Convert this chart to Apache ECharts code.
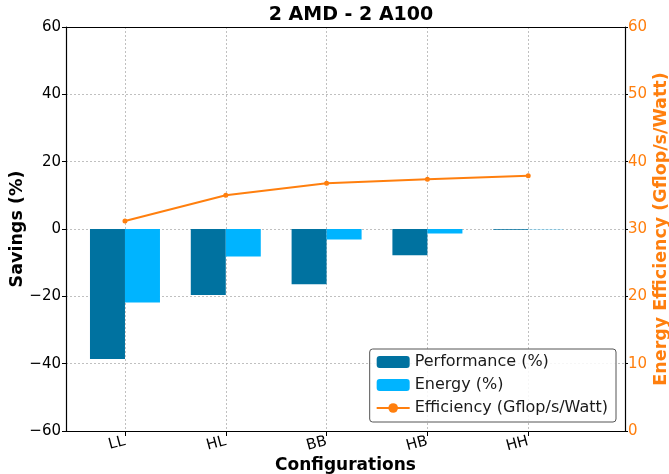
<!DOCTYPE html>
<html>
<head>
<meta charset="utf-8">
<script src="https://cdn.jsdelivr.net/npm/echarts@6/dist/echarts.min.js"></script>
<style>
  html, body { margin: 0; padding: 0; background: #fff; }
  #chart { width: 669px; height: 474px; }
</style>
</head>
<body>
<div id="chart"></div>
<script>
const categories = ["LL", "HL", "BB", "HB", "HH"];
const performance = [-38.6, -19.6, -16.4, -7.8, -0.2];
const energy = [-21.8, -8.2, -3.1, -1.3, -0.1];
const efficiency = [31.2, 35.0, 36.8, 37.4, 37.9];
const savingsTicks = [-60, 60, 20];
const efficiencyTicks = [0, 60, 10];

const font = "DejaVu Sans";
const orange = "#ff7f0e";
const minus = v => String(v).replace("-", "\u2212");

const chart = echarts.init(document.getElementById("chart"));

const gridLine = {show: true, lineStyle: {color: "#b0b0b0", type: [2, 2], width: 0.8}};
const frame = {show: true, onZero: false, lineStyle: {color: "#000", width: 1.2}};

const option = {
  animation: false,
  textStyle: {fontFamily: font},
  title: {
    text: "2 AMD - 2 A100",
    left: 346, top: 1, textAlign: "center",
    textStyle: {fontFamily: font, fontSize: 19, fontWeight: "bold", color: "#000"}
  },
  legend: {
    orient: "vertical",
    right: 53, bottom: 52,
    itemWidth: 33, itemHeight: 12, itemGap: 7,
    padding: [5, 8, 6, 6],
    borderColor: "#555", borderWidth: 1, borderRadius: 3,
    backgroundColor: "rgba(255,255,255,0.85)",
    textStyle: {fontFamily: font, fontSize: 16, color: "#1a1a1a"},
    data: [
      "Performance (%)",
      "Energy (%)",
      {name: "Efficiency (Gflop/s/Watt)", itemStyle: {borderWidth: 0}}
    ]
  },
  grid: {left: 66, right: 44, top: 27, bottom: 43, outerBoundsMode: "none", containLabel: false},
  xAxis: [
    {
      type: "value",
      min: -0.585, max: 4.96,
      splitNumber: 5,
      name: "Configurations",
      nameLocation: "middle", nameGap: 26, nameMoveOverlap: false,
      nameTextStyle: {fontFamily: font, fontSize: 17, fontWeight: "bold", color: "#000"},
      axisLine: frame,
      axisTick: {show: true, length: 5, lineStyle: {color: "#000"}},
      axisLabel: {
        rotate: 15, fontSize: 15, color: "#000", margin: 10,
        showMinLabel: false, showMaxLabel: false,
        formatter: v => (Number.isInteger(v) && categories[v]) ? categories[v] : ""
      },
      splitLine: gridLine
    },
    {
      type: "value", position: "top",
      min: -0.585, max: 4.96,
      axisLine: frame,
      axisTick: {show: false}, axisLabel: {show: false}, splitLine: {show: false}
    }
  ],
  yAxis: [
    {
      type: "value",
      min: savingsTicks[0], max: savingsTicks[1], interval: savingsTicks[2],
      name: "Savings (%)",
      nameLocation: "middle", nameGap: 40, nameMoveOverlap: false,
      nameTextStyle: {fontFamily: font, fontSize: 17.5, fontWeight: "bold", color: "#000"},
      axisLine: frame,
      axisTick: {show: true, length: 4, lineStyle: {color: "#000"}},
      axisLabel: {fontSize: 15, color: "#000", margin: 5, formatter: minus},
      splitLine: gridLine
    },
    {
      type: "value", position: "right",
      min: efficiencyTicks[0], max: efficiencyTicks[1], interval: efficiencyTicks[2],
      name: "Energy Efficiency (Gflop/s/Watt)",
      nameLocation: "middle", nameGap: 27, nameRotate: 90, nameMoveOverlap: false,
      nameTextStyle: {fontFamily: font, fontSize: 17.5, fontWeight: "bold", color: orange},
      axisLine: frame,
      axisTick: {show: true, length: 3, lineStyle: {color: "#000"}},
      axisLabel: {fontSize: 15, color: orange, margin: 3},
      splitLine: {show: false}
    }
  ],
  series: [
    {
      name: "Performance (%)",
      type: "bar",
      barWidth: 35, barGap: "0%",
      itemStyle: {color: "#0072a0"},
      data: performance.map((v, i) => [i, v])
    },
    {
      name: "Energy (%)",
      type: "bar",
      barWidth: 35, barGap: "0%",
      itemStyle: {color: "#00b4ff"},
      data: energy.map((v, i) => [i, v])
    },
    {
      name: "Efficiency (Gflop/s/Watt)",
      type: "line",
      yAxisIndex: 1,
      symbol: "circle", symbolSize: 5,
      lineStyle: {color: orange, width: 2},
      itemStyle: {color: orange},
      data: efficiency.map((v, i) => [i, v]),
      z: 5
    }
  ]
};

chart.setOption(option);
</script>
</body>
</html>
